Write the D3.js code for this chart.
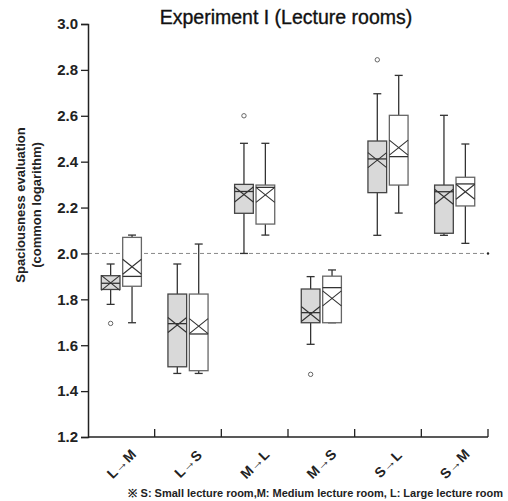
<!DOCTYPE html>
<html><head><meta charset="utf-8">
<script src="https://cdn.jsdelivr.net/npm/d3@7"></script>
<style>body{margin:0;background:#fff}svg{display:block}text{font-family:"Liberation Sans",Arial,sans-serif}
text.xlab{transform-box:fill-box;transform-origin:center;transform:rotate(-45deg)}</style>
</head><body>
<script>
const categories = ["L→M","L→S","M→L","M→S","S→L","S→M"];
const yTicks = [1.2,1.4,1.6,1.8,2.0,2.2,2.4,2.6,2.8,3.0];
// gray boxes (first group): [low whisker, q1, median, q3, high whisker, mean]
const grayStats = [
  [1.778,1.843,1.870,1.903,1.954,1.872],
  [1.477,1.506,1.694,1.823,1.954,1.688],
  [2.000,2.175,2.270,2.301,2.480,2.257],
  [1.604,1.698,1.742,1.845,1.899,1.736],
  [2.079,2.265,2.412,2.490,2.696,2.407],
  [2.079,2.088,2.269,2.298,2.602,2.247]
];
// white boxes (second group)
const whiteStats = [
  [1.698,1.857,1.900,2.070,2.080,1.942],
  [1.477,1.489,1.649,1.823,2.041,1.683],
  [2.080,2.128,2.288,2.298,2.480,2.255],
  [1.698,1.698,1.851,1.901,1.928,1.804],
  [2.176,2.298,2.422,2.602,2.776,2.461],
  [2.044,2.207,2.303,2.332,2.477,2.269]
];
const grayOutliers = [[1.695],[],[2.600],[1.473],[2.844],[]];
const whiteOutliers = [[],[],[],[],[],[]];
const refValue = 2.0;

const W=508,H=501;
const svg=d3.select("body").append("svg").attr("width",W).attr("height",H);
const x=d3.scaleBand().domain(categories).range([88,488]).padding(0);
const inner=d3.scaleBand().domain(["gray","white"]).range([0,x.bandwidth()]).paddingInner(0.126).paddingOuter(0.62);
const y=d3.scaleLinear().domain([1.2,3.0]).range([437,24]);

// title
svg.append("text").attr("x",286).attr("y",24).attr("text-anchor","middle")
  .attr("font-size",19.5).attr("fill","#111").attr("stroke","#111").attr("stroke-width",0.35)
  .text("Experiment I (Lecture rooms)");

// reference dashed line
svg.append("line").attr("x1",x.range()[0]).attr("x2",x.range()[1]).attr("y1",y(refValue)).attr("y2",y(refValue))
  .attr("stroke","#888").attr("stroke-width",1).attr("stroke-dasharray","4,3");
svg.append("circle").attr("cx",x.range()[1]).attr("cy",y(refValue)).attr("r",1.2).attr("fill","#222");

// y axis
const ya=svg.append("g").attr("transform","translate(88,0)")
  .call(d3.axisLeft(y).tickValues(yTicks).tickFormat(d3.format(".1f")).tickSize(7).tickPadding(3));
ya.select(".domain").attr("stroke","#222").attr("stroke-width",1.5);
ya.selectAll(".tick line").attr("stroke","#222").attr("stroke-width",1.3);
ya.selectAll(".tick text").attr("font-size",15).attr("font-weight","bold").attr("fill","#222")
  .style("font-family","'Liberation Sans',Arial,sans-serif");

// x axis
const xa=svg.append("g").attr("transform","translate(0,437)");
xa.append("line").attr("x1",x.range()[0]).attr("x2",x.range()[1]).attr("stroke","#222").attr("stroke-width",1.5);
const bounds=categories.map(c=>x(c)+x.bandwidth());
xa.selectAll("line.tk").data(bounds).join("line").attr("class","tk")
  .attr("x1",d=>d).attr("x2",d=>d).attr("y1",0).attr("y2",-8).attr("stroke","#222").attr("stroke-width",1.3);
svg.selectAll("text.xlab").data(categories).join("text").attr("class","xlab")
  .attr("x",d=>x(d)+x.bandwidth()/2).attr("y",464)
  .attr("text-anchor","middle").attr("dy","0.35em")
  .attr("font-size",14).attr("font-weight","bold").attr("fill","#222").text(d=>d);

// y label
const yl=svg.append("text").attr("transform","translate(25,205) rotate(-90)").attr("text-anchor","middle")
  .attr("font-size",13).attr("font-weight","bold").attr("fill","#222");
yl.append("tspan").attr("x",0).attr("dy",0).text("Spaciousness evaluation");
yl.append("tspan").attr("x",0).attr("dy",16).text("(common logarithm)");

// footnote
svg.append("text").attr("x",503).attr("y",497).attr("text-anchor","end")
  .attr("font-size",11).attr("font-weight","bold").attr("fill","#222")
  .text("※ S: Small lecture room,M: Medium lecture room, L: Large lecture room");

function drawBoxes(stats,outs,key,fill,stroke){
  const bw=inner.bandwidth();
  const g=svg.append("g");
  stats.forEach((s,i)=>{
    const x0=x(categories[i])+inner(key), cx=x0+bw/2;
    const [lo,q1,md,q3,hi,mn]=s;
    const gg=g.append("g");
    gg.append("line").attr("x1",cx).attr("x2",cx).attr("y1",y(hi)).attr("y2",y(q3)).attr("stroke","#333").attr("stroke-width",1.3);
    gg.append("line").attr("x1",cx).attr("x2",cx).attr("y1",y(q1)).attr("y2",y(lo)).attr("stroke","#333").attr("stroke-width",1.3);
    [hi,lo].forEach(v=>gg.append("line").attr("x1",cx-4).attr("x2",cx+4).attr("y1",y(v)).attr("y2",y(v)).attr("stroke","#333").attr("stroke-width",1.3));
    gg.append("rect").attr("x",x0).attr("y",y(q3)).attr("width",bw).attr("height",Math.max(0.5,y(q1)-y(q3)))
      .attr("fill",fill).attr("stroke",stroke).attr("stroke-width",1.3);
    gg.append("line").attr("x1",x0).attr("x2",x0+bw).attr("y1",y(md)).attr("y2",y(md)).attr("stroke","#333").attr("stroke-width",1.3);
    const hh=7.5;
    gg.append("path").attr("d",`M${x0},${y(mn)-hh}L${x0+bw},${y(mn)+hh}M${x0},${y(mn)+hh}L${x0+bw},${y(mn)-hh}`)
      .attr("stroke","#333").attr("stroke-width",1.1).attr("fill","none");
    outs[i].forEach(v=>gg.append("circle").attr("cx",cx).attr("cy",y(v)).attr("r",2.2).attr("fill","none").attr("stroke","#666").attr("stroke-width",1));
  });
}
drawBoxes(grayStats,grayOutliers,"gray","#d9d9d9","#444");
drawBoxes(whiteStats,whiteOutliers,"white","#fff","#666");
</script>
</body></html>
